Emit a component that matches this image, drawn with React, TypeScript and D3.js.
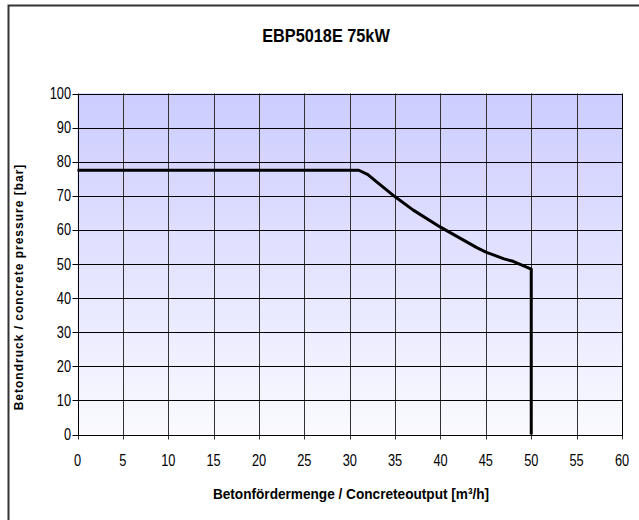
import React, { useEffect, useRef } from 'react';
import * as d3 from 'd3';

const titleText = 'EBP5018E 75kW';
const xTitle = 'Betonfördermenge / Concreteoutput [m³/h]';
const yTitle = 'Betondruck / concrete pressure [bar]';

const xTicks = [0, 5, 10, 15, 20, 25, 30, 35, 40, 45, 50, 55, 60];
const yTicks = [0, 10, 20, 30, 40, 50, 60, 70, 80, 90, 100];

// Concrete output [m³/h] vs pressure [bar]
const flowValues = [0, 31, 32, 33, 35, 37, 40, 42, 44, 45, 47, 48, 50, 50];
const pressureValues = [77.5, 77.5, 76.2, 74, 69.7, 65.8, 60.8, 57.8, 54.8, 53.5, 51.5, 50.8, 48.5, 0];

const App = () => {
  const svgRef = useRef<SVGSVGElement>(null);

  useEffect(() => {
    document.body.style.margin = '0';
    if (!svgRef.current) return;

    const width = 639;
    const height = 520;
    const left = 77.5;
    const right = 622;
    const top = 93.5;
    const bottom = 434.5;
    const font = '"Liberation Sans", Arial, sans-serif';
    const narrow = 0.8; // squeeze to mimic Arial Narrow

    const svg = d3.select(svgRef.current);
    svg.selectAll('*').remove();
    svg.attr('width', width).attr('height', height).attr('viewBox', `0 0 ${width} ${height}`);

    svg.append('rect').attr('width', width).attr('height', height).attr('fill', '#fff');

    // outer frame (left and top edges visible)
    svg.append('path')
      .attr('d', `M8.5,${height} V5.5 H${width}`)
      .attr('fill', 'none')
      .attr('stroke', '#333')
      .attr('stroke-width', 2);

    const x = d3.scaleLinear().domain([0, 60]).range([left, right]);
    const y = d3.scaleLinear().domain([0, 100]).range([bottom, top]);

    // background gradient
    const defs = svg.append('defs');
    const grad = defs.append('linearGradient')
      .attr('id', 'plot-bg')
      .attr('x1', 0).attr('y1', 0).attr('x2', 0).attr('y2', 1);
    grad.append('stop').attr('offset', '0%').attr('stop-color', '#ccccff');
    grad.append('stop').attr('offset', '100%').attr('stop-color', '#fafaff');

    svg.append('rect')
      .attr('x', left).attr('y', top)
      .attr('width', right - left).attr('height', bottom - top)
      .attr('fill', 'url(#plot-bg)');

    // gridlines
    const grid = svg.append('g').attr('stroke', '#000').attr('stroke-width', 1);
    grid.selectAll('.vg')
      .data(xTicks)
      .join('line')
      .attr('x1', d => Math.round(x(d)) + 0.5)
      .attr('x2', d => Math.round(x(d)) + 0.5)
      .attr('y1', top)
      .attr('y2', bottom + 5)
      .attr('stroke', '#333');
    grid.selectAll('.hg')
      .data(yTicks)
      .join('line')
      .attr('x1', left - 5)
      .attr('x2', right)
      .attr('y1', d => Math.round(y(d)) + 0.5)
      .attr('y2', d => Math.round(y(d)) + 0.5);

    svg.append('rect')
      .attr('x', Math.round(left) + 0.5).attr('y', Math.round(top) + 0.5)
      .attr('width', Math.round(right) - Math.round(left)).attr('height', Math.round(bottom) - Math.round(top))
      .attr('fill', 'none').attr('stroke', '#000');

    // x tick labels
    svg.append('g')
      .selectAll('text')
      .data(xTicks)
      .join('text')
      .attr('transform', d => `translate(${x(d)},466) scale(${narrow},1)`)
      .attr('text-anchor', 'middle')
      .attr('font-family', font)
      .attr('font-size', 16)
      .text(d => d);

    // y tick labels
    svg.append('g')
      .selectAll('text')
      .data(yTicks)
      .join('text')
      .attr('transform', d => `translate(71,${y(d) + 5.5}) scale(${narrow},1)`)
      .attr('text-anchor', 'end')
      .attr('font-family', font)
      .attr('font-size', 16)
      .text(d => d);

    // curve
    const points: [number, number][] = flowValues.map((f, i) => [f, pressureValues[i]]);
    svg.append('path')
      .datum(points)
      .attr('d', d3.line<[number, number]>().x(d => x(d[0])).y(d => y(d[1])))
      .attr('fill', 'none')
      .attr('stroke', '#000')
      .attr('stroke-width', 3)
      .attr('stroke-linejoin', 'round');

    // titles
    svg.append('text')
      .attr('transform', `translate(326,42) scale(0.88,1)`)
      .attr('text-anchor', 'middle')
      .attr('font-family', font)
      .attr('font-weight', 'bold')
      .attr('font-size', 18.5)
      .text(titleText);

    svg.append('text')
      .attr('transform', `translate(351,499) scale(0.88,1)`)
      .attr('text-anchor', 'middle')
      .attr('font-family', font)
      .attr('font-weight', 'bold')
      .attr('font-size', 15.5)
      .text(xTitle);

    svg.append('text')
      .attr('transform', `translate(23,287) rotate(-90)`)
      .attr('text-anchor', 'middle')
      .attr('font-family', font)
      .attr('font-weight', 'bold')
      .attr('font-size', 12)
      .attr('letter-spacing', 1)
      .text(yTitle);
  }, []);

  return <svg ref={svgRef} style={{ display: 'block' }}></svg>;
};

export default App;
